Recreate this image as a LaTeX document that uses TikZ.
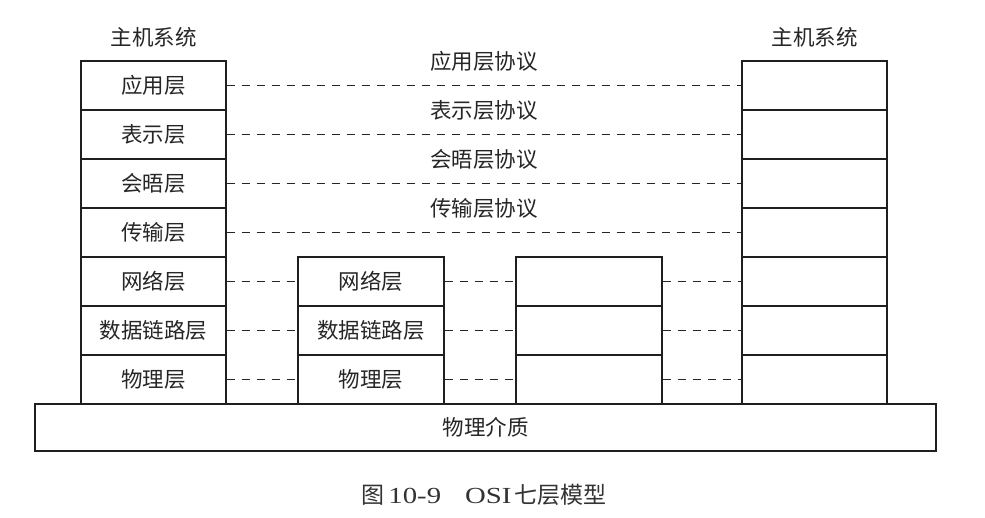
\documentclass[tikz,border=0pt]{standalone}
\usepackage{fontspec}
\setmainfont{Liberation Serif}
\newfontfamily\cjk{Noto Sans CJK SC}
\newfontfamily\wideserif[FakeStretch=1.25]{Liberation Serif}
\begin{document}
\begin{tikzpicture}[x=1pt,y=-1pt,
  ink/.style={draw=black!88, line width=1.3pt},
  cjktext/.style={font=\cjk\fontsize{21.5}{23}\selectfont, text=black!85},
  cell/.style={ink, cjktext, rectangle, minimum width=145pt, minimum height=49pt,
    inner sep=0pt},
  base/.style={ink, cjktext, rectangle, minimum width=901pt, minimum height=47pt,
    inner sep=0pt},
  peer/.style={draw=black!85, line width=1.9pt, dash pattern=on 8.5pt off 6.5pt},
  lbl/.style={cjktext, inner sep=0pt}]
\useasboundingbox[fill=white] (0,0) rectangle (985,517);

% physical medium
\node[base] (medium) at (485.5,427.5) {物理介质};

% left host: seven layers
\foreach \i/\t in {1/应用层,2/表示层,3/会晤层,4/传输层,5/网络层,6/数据链路层,7/物理层}
  \node[cell] (L\i) at (153.5,{36.5+49*\i}) {\t};
% right host: seven empty layers
\foreach \i in {1,...,7}
  \node[cell] (R\i) at (814.5,{36.5+49*\i}) {};
% intermediate nodes: three layers each
\foreach \i/\t in {5/网络层,6/数据链路层,7/物理层}
  \node[cell, minimum width=146pt] (A\i) at (371,{36.5+49*\i}) {\t};
\foreach \i in {5,6,7}
  \node[cell, minimum width=146pt] (B\i) at (589,{36.5+49*\i}) {};

% host titles
\node[lbl] (hostL) at (153.5,37) {主机系统};
\node[lbl] (hostR) at (814.5,37) {主机系统};

% end-to-end peer protocols
\foreach \i/\t in {1/应用层协议,2/表示层协议,3/会晤层协议,4/传输层协议}{
  \draw[peer] (L\i.east) -- (R\i.west);
  \node[lbl] (P\i) at (484,{12+49*\i}) {\t};
}
% hop-by-hop peer protocols
\foreach \i in {5,6,7}{
  \draw[peer] (L\i.east) -- (A\i.west);
  \draw[peer] (A\i.east) -- (B\i.west);
  \draw[peer] (B\i.east) -- (R\i.west);
}

% caption
\node[inner sep=0pt, text=black!80, font=\fontsize{23}{25}\selectfont] (caption) at (484,495)
  {{\cjk 图}\hspace{4pt}{\wideserif 10-9}\hspace{24pt}{\wideserif OSI}\hspace{3pt}{\cjk 七层模型}};
\end{tikzpicture}
\end{document}
